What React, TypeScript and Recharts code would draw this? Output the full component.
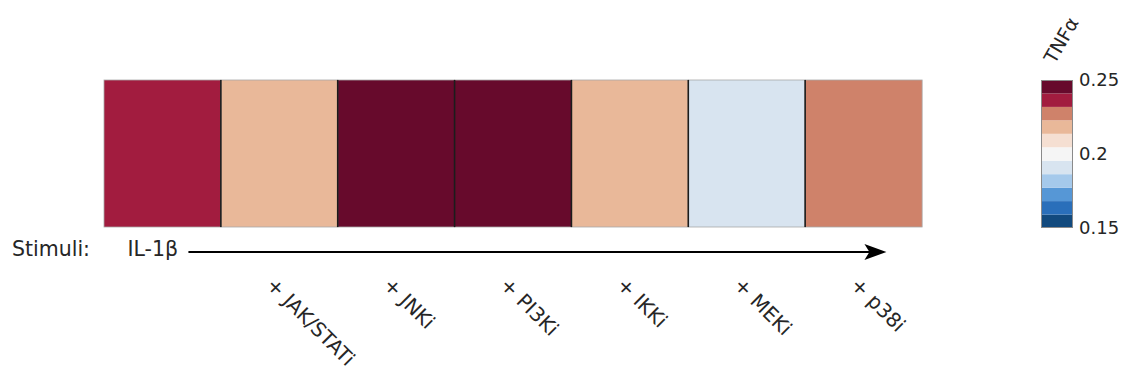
import { Bar, BarChart, XAxis, YAxis } from 'recharts';

// Heatmap row: TNFα response for IL-1β alone and with each inhibitor added
const conditions = ['IL-1β', '+ JAK/STATi', '+ JNKi', '+ PI3Ki', '+ IKKi', '+ MEKi', '+ p38i'];
const tnfValues = [0.236, 0.218, 0.247, 0.246, 0.219, 0.19, 0.227];

// Discrete colour scale (bottom to top), 11 bins between the limits
const scaleMin = 0.15;
const scaleMax = 0.25;
const scaleTicks = [0.15, 0.2, 0.25];
const binColors = [
    '#124a7e',
    '#2a6fba',
    '#5697d6',
    '#a5c9eb',
    '#d8e4f0',
    '#f5f5f5',
    '#f5dfd2',
    '#e9b899',
    '#cf826a',
    '#a21c3f',
    '#670a2c',
];

const binWidth = (scaleMax - scaleMin) / binColors.length;

function colorFor(v: number) {
    const i = Math.floor((v - scaleMin) / binWidth);
    return binColors[Math.max(0, Math.min(binColors.length - 1, i))];
}

const heatData = conditions.map((name, i) => ({ name, tnf: tnfValues[i], span: 1 }));

const barRow: Record<string, number | string> = { name: 'TNFα', base: scaleMin };
binColors.forEach((_, i) => {
    barRow[`b${i}`] = binWidth;
});

const FONT = '"DejaVu Sans", Verdana, sans-serif';
const INK = '#262626';

function HeatCell(props: any) {
    const { x, y, width, height, payload } = props;
    const first = payload.name === conditions[0];
    return (
        <g>
            <rect x={x} y={y} width={width} height={height} fill={colorFor(payload.tnf)} stroke="#a8a8a8" strokeWidth={0.8} />
            {!first && <line x1={x} x2={x} y1={y} y2={y + height} stroke="#1c1c1c" strokeWidth={1.6} />}
        </g>
    );
}

function ConditionTick(props: any) {
    const { x, y, payload } = props;
    if (payload.index === 0 || payload.value === conditions[0]) {
        return (
            <g>
                <text x={12} y={y + 29} fontFamily={FONT} fontSize={20.5} fill={INK}>
                    Stimuli:
                </text>
                <text x={x - 35} y={y + 29} fontFamily={FONT} fontSize={20.5} fill={INK}>
                    {payload.value}
                </text>
                <line x1={x + 26} x2={x + 712} y1={y + 25} y2={y + 25} stroke="#000" strokeWidth={2} />
                <polygon
                    points={`${x + 724},${y + 25} ${x + 702},${y + 17} ${x + 707},${y + 25} ${x + 702},${y + 33}`}
                    fill="#000"
                />
            </g>
        );
    }
    const ax = x - 14;
    const ay = y + 59;
    return (
        <text x={ax} y={ay} fontFamily={FONT} fontSize={20} fill={INK} transform={`rotate(45 ${ax} ${ay})`}>
            {payload.value}
        </text>
    );
}

export default function App() {
    return (
        <div style={{ position: 'absolute', left: 0, top: 0, width: 1122, height: 374, background: '#fff' }}>
            <div style={{ position: 'absolute', left: 0, top: 0 }}>
                <BarChart
                    width={1122}
                    height={374}
                    data={heatData}
                    margin={{ top: 80, right: 200, bottom: 0, left: 104 }}
                    barCategoryGap={0}
                >
                    <XAxis
                        dataKey="name"
                        height={147}
                        axisLine={false}
                        tickLine={false}
                        tickSize={0}
                        tickMargin={0}
                        interval={0}
                        tick={<ConditionTick />}
                    />
                    <YAxis hide domain={[0, 1]} />
                    <Bar dataKey="span" shape={<HeatCell />} isAnimationActive={false} />
                </BarChart>
            </div>
            <div style={{ position: 'absolute', left: 0, top: 0 }}>
                <BarChart
                    width={1122}
                    height={374}
                    data={[barRow]}
                    margin={{ top: 80, right: 0, bottom: 146, left: 1041 }}
                    barCategoryGap={0}
                >
                    <XAxis dataKey="name" hide />
                    <YAxis
                        orientation="right"
                        width={49}
                        type="number"
                        domain={[scaleMin, scaleMax]}
                        ticks={scaleTicks}
                        allowDataOverflow
                        axisLine={false}
                        tickLine={false}
                        tickSize={0}
                        tickMargin={6}
                        tick={{ fontFamily: FONT, fontSize: 18, fill: INK }}
                        tickFormatter={(v: number) => String(v)}
                    />
                    <Bar dataKey="base" stackId="c" fill="none" isAnimationActive={false} />
                    {binColors.map((c, i) => (
                        <Bar key={c} dataKey={`b${i}`} stackId="c" fill={c} isAnimationActive={false} />
                    ))}
                </BarChart>
            </div>
            <div
                style={{
                    position: 'absolute',
                    left: 1041,
                    top: 80,
                    width: 32,
                    height: 148,
                    boxSizing: 'border-box',
                    border: '1px solid #8a8a8a',
                }}
            />
            <svg width={1122} height={374} style={{ position: 'absolute', left: 0, top: 0, pointerEvents: 'none' }}>
                <text
                    x={1061}
                    y={40}
                    textAnchor="middle"
                    dominantBaseline="central"
                    fontFamily={FONT}
                    fontSize={19}
                    fill={INK}
                    transform="rotate(-60 1061 40)"
                >
                    TNFα
                </text>
            </svg>
        </div>
    );
}
